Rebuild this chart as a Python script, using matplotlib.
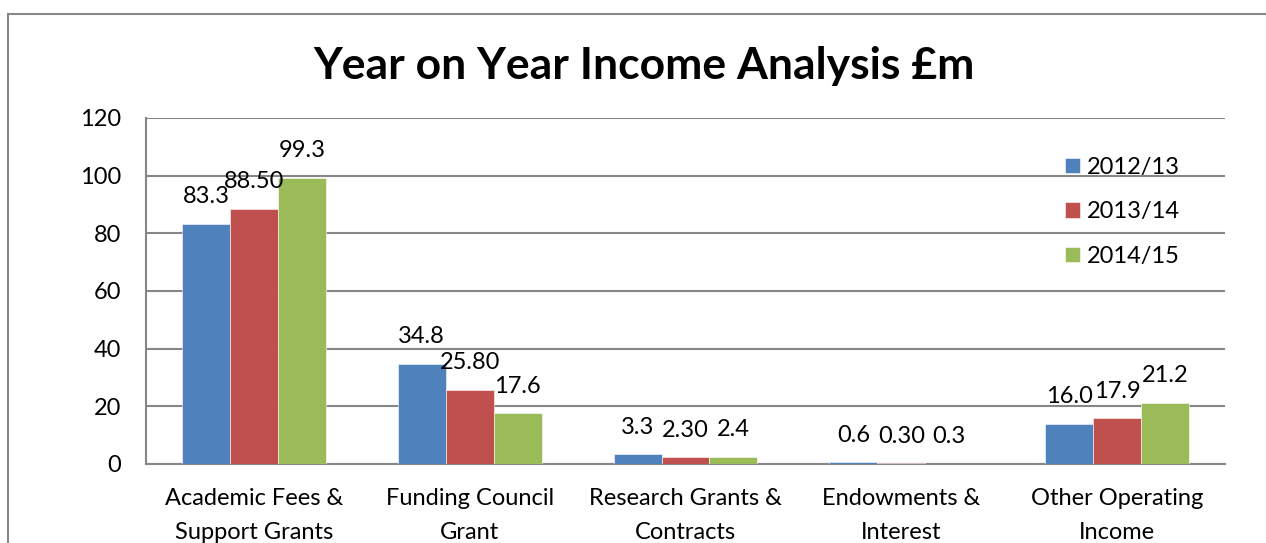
import matplotlib
matplotlib.use('Agg')
import matplotlib.pyplot as plt
from matplotlib.lines import Line2D
import numpy as np

# Данные графика
categories = ['Academic Fees &\nSupport Grants', 'Funding Council\nGrant',
              'Research Grants &\nContracts', 'Endowments &\nInterest',
              'Other Operating\nIncome']
years = ['2012/13', '2013/14', '2014/15']
values_1213 = [83.3, 34.8, 3.3, 0.6, 13.9]
values_1314 = [88.5, 25.8, 2.3, 0.3, 15.9]
values_1415 = [99.3, 17.6, 2.4, 0.1, 21.3]
labels_1213 = ['83.3', '34.8', '3.3', '0.6', '16.0']
labels_1314 = ['88.50', '25.80', '2.30', '0.30', '17.9']
labels_1415 = ['99.3', '17.6', '2.4', '0.3', '21.2']
colors = ['#4F81BD', '#C0504D', '#9BBB59']

plt.rcParams['font.family'] = ['Lato', 'DejaVu Sans']
plt.rcParams['font.size'] = 17

fig = plt.figure(figsize=(12.66, 5.43), dpi=100)
ax = fig.add_axes([0.1153, 0.1455, 0.8523, 0.6372])

x = np.arange(len(categories))
w = 0.222
series = [(values_1213, labels_1213), (values_1314, labels_1314), (values_1415, labels_1415)]
for i, (vals, labs) in enumerate(series):
    pos = x + (i - 1) * w
    ax.bar(pos, vals, width=w, color=colors[i], label=years[i], zorder=3,
           edgecolor='white', linewidth=0.4)
    for px, v, t in zip(pos, vals, labs):
        ax.annotate(t, (px, v), xytext=(0, 19.5), textcoords='offset points',
                    ha='center', va='center', fontsize=17, zorder=4)

# Оси
ax.set_xlim(-0.5, len(categories) - 0.5)
ax.set_ylim(0, 120)
ax.set_yticks(np.arange(0, 121, 20))
ax.set_xticks(x)
ax.set_xticklabels(categories, linespacing=1.78, fontsize=17)
ax.tick_params(axis='both', length=0)
ax.tick_params(axis='y', labelsize=17, pad=18)
ax.tick_params(axis='x', pad=17)
ax.grid(True, axis='y', color='#868686', linewidth=1.5, zorder=0)
for s in ['top', 'right']:
    ax.spines[s].set_visible(False)
for s in ['left', 'bottom']:
    ax.spines[s].set_color('#868686')
    ax.spines[s].set_linewidth(1.5)

ax.legend(loc='upper left', bbox_to_anchor=(0.843, 0.915), frameon=False,
          handlelength=0.62, handleheight=0.62, handletextpad=0.3,
          labelspacing=1.0, fontsize=17, borderaxespad=0)

fig.text(0.509, 0.878, 'Year on Year Income Analysis £m', ha='center', va='center',
         fontsize=32, fontweight='bold')

# Рамка диаграммы
fig.add_artist(Line2D([8 / 1266, 8 / 1266], [0, 1 - 13.5 / 543],
                      transform=fig.transFigure, color='#888888', linewidth=1.5))
fig.add_artist(Line2D([8 / 1266, 1], [1 - 13.5 / 543, 1 - 13.5 / 543],
                      transform=fig.transFigure, color='#888888', linewidth=1.5))

fig.savefig('out.png', dpi=100)
